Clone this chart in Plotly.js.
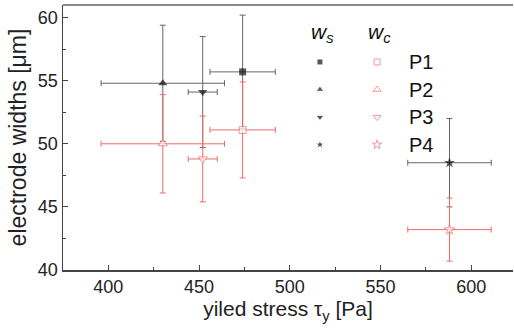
<!DOCTYPE html>
<html><head><meta charset="utf-8">
<script src="https://cdn.plot.ly/plotly-3.0.1.min.js"></script>
<style>html,body{margin:0;padding:0;overflow:hidden;background:#fff}</style>
</head><body><div id="chart" style="width:514px;height:328px"></div>
<script>
// data
var samples = ['P1', 'P2', 'P3', 'P4'];
var yieldStress = [474, 430, 452, 588];
var yieldStressErr = [18, 34, 8, 23];
var wsWidth = [55.7, 54.8, 54.1, 48.5];
var wsErr = [4.5, 4.6, 4.4, 3.5];
var wcWidth = [51.1, 50.0, 48.8, 43.2];
var wcErr = [3.8, 3.9, 3.4, 2.5];

var symbols = ['square', 'triangle-up', 'triangle-down', 'star'];
var sizes = [7, 8, 8, 8];
var RED = '#f26a6a';
var FONT = 'Liberation Sans, Arial, sans-serif';

var traces = [
  {
    x: yieldStress, y: wsWidth, type: 'scatter', mode: 'markers',
    marker: {symbol: symbols, size: sizes, color: '#111', line: {width: 0}},
    error_y: {type: 'data', array: wsErr, visible: true, color: '#666', thickness: 1, width: 3},
    error_x: {type: 'data', array: yieldStressErr, visible: true, color: '#666', thickness: 1, width: 3},
    showlegend: false, hoverinfo: 'x+y'
  },
  {
    x: yieldStress, y: wcWidth, type: 'scatter', mode: 'markers',
    marker: {symbol: symbols, size: sizes, color: '#fff', line: {width: 1, color: RED}},
    error_y: {type: 'data', array: wcErr, visible: true, color: RED, thickness: 1, width: 3},
    error_x: {type: 'data', array: yieldStressErr, visible: true, color: RED, thickness: 1, width: 3},
    showlegend: false, hoverinfo: 'x+y'
  }
];

// hand-made legend on an overlay axis (0..1 of the plot area)
var legX_ws = 0.571, legX_wc = 0.698, legY0 = 0.785, legStep = 0.104;
var legY = samples.map(function (s, i) { return legY0 - i * legStep; });
var legSizes = [6, 7, 7, 7];
traces.push({
  x: samples.map(function () { return legX_ws; }), y: legY,
  xaxis: 'x2', yaxis: 'y2', type: 'scatter', mode: 'markers',
  marker: {symbol: symbols, size: legSizes, color: '#111'},
  showlegend: false, hoverinfo: 'skip'
});
traces.push({
  x: samples.map(function () { return legX_wc; }), y: legY,
  xaxis: 'x2', yaxis: 'y2', type: 'scatter', mode: 'markers',
  marker: {symbol: symbols, size: legSizes, color: '#fff', line: {width: 1, color: RED}},
  showlegend: false, hoverinfo: 'skip'
});

var annotations = samples.map(function (s, i) {
  return {text: s, xref: 'paper', yref: 'paper', x: 0.765, y: legY[i],
    xanchor: 'left', yanchor: 'middle', showarrow: false,
    font: {family: FONT, size: 20, color: '#111'}};
});
annotations.push({text: '<i>w<sub>s</sub></i>', xref: 'paper', yref: 'paper', x: legX_ws + 0.005, y: 0.895,
  xanchor: 'center', yanchor: 'middle', showarrow: false, font: {family: FONT, size: 21, color: '#111'}});
annotations.push({text: '<i>w<sub>c</sub></i>', xref: 'paper', yref: 'paper', x: legX_wc + 0.005, y: 0.895,
  xanchor: 'center', yanchor: 'middle', showarrow: false, font: {family: FONT, size: 21, color: '#111'}});

var layout = {
  width: 514, height: 328,
  margin: {l: 63, r: 1, t: 5, b: 58},
  paper_bgcolor: '#fff', plot_bgcolor: '#fff',
  font: {family: FONT, size: 18, color: '#222'},
  xaxis: {
    range: [375, 623], tick0: 400, dtick: 50, ticks: 'inside', ticklen: 5, tickwidth: 1, tickcolor: '#444',
    minor: {dtick: 25, ticks: 'inside', ticklen: 3, tickcolor: '#444'},
    showline: true, linecolor: '#444', linewidth: 1.5, showgrid: false, zeroline: false,
    tickfont: {family: FONT, size: 18, color: '#222'},
    title: {text: 'yiled stress τ<sub>y</sub> [Pa]', font: {family: FONT, size: 21, color: '#222'}, standoff: 2}
  },
  yaxis: {
    range: [40, 61], tick0: 40, dtick: 5, ticks: 'inside', ticklen: 5, tickwidth: 1, tickcolor: '#444',
    minor: {dtick: 2.5, ticks: 'inside', ticklen: 3, tickcolor: '#444'},
    showline: true, linecolor: '#444', linewidth: 1.5, showgrid: false, zeroline: false,
    tickfont: {family: FONT, size: 18, color: '#222'},
    title: {text: 'electrode widths [μm]', font: {family: FONT, size: 23, color: '#222'}, standoff: 5}
  },
  xaxis2: {overlaying: 'x', range: [0, 1], visible: false, fixedrange: true},
  yaxis2: {overlaying: 'y', range: [0, 1], visible: false, fixedrange: true},
  shapes: [
    {type: 'line', xref: 'paper', yref: 'paper', x0: 0, x1: 1, y0: 1, y1: 1, line: {color: '#888', width: 2}}
  ],
  annotations: annotations
};

Plotly.newPlot('chart', traces, layout, {staticPlot: true, displayModeBar: false});
</script></body></html>
